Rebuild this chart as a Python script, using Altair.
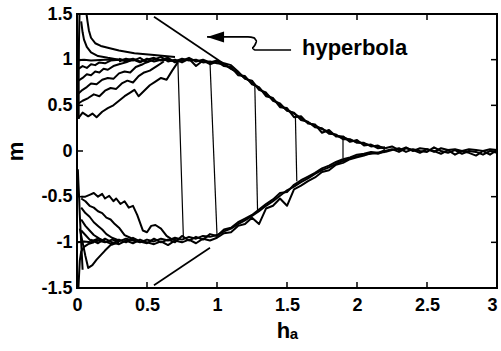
import altair as alt
import pandas as pd

# ---------------- data ----------------
# upper branch, start-up curves near h = 0
U0_H = [0.012, 0.012, 0.014, 0.018]
U0_M = [0.35, 0.8, 1.2, 1.5]
U1_H = [0.068, 0.075, 0.085, 0.1, 0.13, 0.17, 0.22, 0.3, 0.41, 0.55, 0.7]
U1_M = [1.5, 1.42, 1.32, 1.24, 1.18, 1.15, 1.13, 1.1, 1.07, 1.05, 1.03]
U2_H = [0.03, 0.04, 0.05, 0.07, 0.1, 0.15, 0.22, 0.3, 0.4]
U2_M = [1.42, 1.3, 1.22, 1.14, 1.08, 1.04, 1.02, 1.0, 1.0]
U3_H = [0.0, 0.05, 0.1, 0.2, 0.3]
U3_M = [0.99, 1.0, 0.99, 1.0, 1.0]
U4_H = [0.01, 0.04, 0.07, 0.1, 0.13, 0.16, 0.2, 0.24, 0.3]
U4_M = [0.9, 0.93, 0.91, 0.95, 0.94, 0.97, 0.96, 0.99, 1.0]
U5_H = [0.01, 0.04, 0.07, 0.1, 0.13, 0.16, 0.19, 0.22, 0.26, 0.3, 0.35, 0.4]
U5_M = [0.77, 0.8, 0.84, 0.83, 0.87, 0.86, 0.9, 0.89, 0.93, 0.95, 0.97, 1.0]
U6_H = [0.01, 0.04, 0.07, 0.1, 0.14, 0.18, 0.22, 0.26, 0.3, 0.34, 0.38, 0.42, 0.47, 0.52]
U6_M = [0.63, 0.67, 0.7, 0.74, 0.73, 0.78, 0.8, 0.79, 0.85, 0.87, 0.86, 0.92, 0.95, 0.99]
U7_H = [0.01, 0.04, 0.08, 0.12, 0.16, 0.2, 0.24, 0.28, 0.32, 0.36, 0.4, 0.44, 0.48, 0.52, 0.57, 0.62]
U7_M = [0.52, 0.55, 0.58, 0.62, 0.6, 0.66, 0.69, 0.68, 0.74, 0.77, 0.75, 0.82, 0.86, 0.88, 0.93, 0.98]
U8_H = [0.01, 0.04, 0.08, 0.11, 0.14, 0.18, 0.22, 0.26, 0.3, 0.34, 0.38, 0.41, 0.44, 0.48,
        0.52, 0.56, 0.6, 0.64, 0.68, 0.72]
U8_M = [0.36, 0.42, 0.38, 0.41, 0.37, 0.43, 0.47, 0.5, 0.55, 0.6, 0.64, 0.67, 0.6, 0.66,
        0.72, 0.76, 0.8, 0.78, 0.88, 0.97]

# upper main branch
UM_H = [0.3, 0.35, 0.4, 0.45, 0.5, 0.55, 0.6, 0.65, 0.7, 0.75, 0.8, 0.85, 0.9, 0.95, 1.0,
        1.05, 1.1, 1.15, 1.2, 1.25, 1.3, 1.35, 1.4, 1.45, 1.5, 1.55, 1.6, 1.65, 1.7, 1.75,
        1.8, 1.85, 1.9, 1.95, 2.0, 2.05, 2.1, 2.15, 2.2]
UM1_M = [1.0, 0.99, 1.01, 0.98, 1.0, 1.02, 0.99, 1.0, 0.98, 1.01, 0.99, 1.0, 0.97, 0.98, 0.96,
         0.95, 0.9, 0.86, 0.8, 0.75, 0.69, 0.62, 0.57, 0.5, 0.45, 0.41, 0.36, 0.31, 0.28, 0.24,
         0.21, 0.17, 0.15, 0.12, 0.1, 0.08, 0.06, 0.05, 0.03]
UM2_M = [0.98, 1.01, 0.99, 1.02, 0.97, 1.0, 1.03, 0.98, 1.0, 0.97, 1.01, 0.93, 0.99, 0.95, 0.98,
         0.93, 0.92, 0.83, 0.82, 0.73, 0.7, 0.6, 0.58, 0.48, 0.47, 0.37, 0.38, 0.3, 0.29, 0.2,
         0.23, 0.16, 0.16, 0.1, 0.12, 0.06, 0.07, 0.03, 0.04]
UM3_M = [1.01, 0.98, 1.0, 0.97, 1.01, 0.98, 1.0, 1.02, 0.97, 0.99, 1.02, 0.98, 1.0, 0.97, 0.99,
         0.96, 0.94, 0.87, 0.79, 0.77, 0.67, 0.64, 0.55, 0.52, 0.44, 0.42, 0.34, 0.32, 0.26, 0.25,
         0.19, 0.18, 0.13, 0.13, 0.09, 0.09, 0.05, 0.06, 0.02]

# lower branch, start-up curves near h = 0
L0_H = [0.006, 0.01, 0.015, 0.02, 0.03, 0.04]
L0_M = [-0.2, -0.35, -0.5, -0.7, -1.0, -1.3]
L1_H = [0.03, 0.06, 0.09, 0.12, 0.15, 0.18, 0.2, 0.23, 0.26, 0.28, 0.31, 0.34, 0.37, 0.4,
        0.43, 0.47, 0.5, 0.53, 0.56, 0.6, 0.64, 0.68, 0.72]
L1_M = [-0.5, -0.5, -0.48, -0.46, -0.5, -0.47, -0.52, -0.49, -0.55, -0.52, -0.58, -0.55, -0.62,
        -0.6, -0.7, -0.87, -0.89, -0.82, -0.81, -0.85, -0.93, -0.97, -0.98]
L2_H = [0.03, 0.06, 0.09, 0.12, 0.15, 0.18, 0.21, 0.24, 0.27, 0.3, 0.34, 0.38, 0.42]
L2_M = [-0.52, -0.55, -0.6, -0.62, -0.66, -0.68, -0.73, -0.75, -0.8, -0.84, -0.92, -0.95, -0.98]
L3_H = [0.03, 0.06, 0.09, 0.12, 0.15, 0.18, 0.21, 0.25, 0.3]
L3_M = [-0.62, -0.68, -0.72, -0.78, -0.82, -0.86, -0.91, -0.95, -0.98]
L4_H = [0.03, 0.06, 0.09, 0.12, 0.16, 0.2]
L4_M = [-0.75, -0.82, -0.87, -0.92, -0.96, -0.99]
L5_H = [0.03, 0.06, 0.09, 0.12]
L5_M = [-0.87, -0.92, -0.97, -1.0]
L6_H = [0.0, 0.05, 0.1, 0.15]
L6_M = [-1.0, -0.99, -1.0, -0.98]
L7_H = [0.02, 0.04, 0.06, 0.08, 0.11, 0.14, 0.17, 0.2, 0.24, 0.3]
L7_M = [-0.85, -1.0, -1.15, -1.28, -1.25, -1.19, -1.14, -1.09, -1.03, -1.0]
L8_H = [0.01, 0.015, 0.02, 0.03, 0.05, 0.08, 0.12]
L8_M = [-1.5, -1.35, -1.2, -1.1, -1.05, -1.02, -1.0]

# lower main branch
LM_H = [0.1, 0.15, 0.2, 0.25, 0.3, 0.35, 0.4, 0.45, 0.5, 0.55, 0.6, 0.65, 0.7, 0.75, 0.8,
        0.85, 0.9, 0.95, 1.0, 1.05, 1.1, 1.15, 1.2, 1.25, 1.3, 1.35, 1.4, 1.45, 1.5, 1.55,
        1.6, 1.65, 1.7, 1.75, 1.8, 1.85, 1.9, 1.95, 2.0, 2.05, 2.1, 2.15, 2.2]
LM1_M = [-1.0, -0.98, -1.0, -0.97, -0.99, -0.96, -0.98, -1.0, -0.97, -0.99, -0.96, -0.98, -0.95,
         -0.97, -0.94, -0.96, -0.93, -0.94, -0.92, -0.88, -0.85, -0.8, -0.76, -0.71, -0.66, -0.6,
         -0.55, -0.49, -0.43, -0.39, -0.34, -0.3, -0.25, -0.21, -0.18, -0.14, -0.11, -0.08, -0.06,
         -0.04, -0.03, -0.02, -0.01]
LM2_M = [-0.97, -1.01, -0.96, -1.0, -1.02, -0.98, -1.01, -0.97, -1.0, -1.02, -0.99, -1.03, -0.98,
         -1.0, -0.97, -1.01, -0.96, -0.98, -0.95, -0.9, -0.89, -0.82, -0.8, -0.73, -0.8, -0.63,
         -0.6, -0.52, -0.6, -0.42, -0.38, -0.33, -0.29, -0.23, -0.21, -0.15, -0.13, -0.09, -0.07,
         -0.05, -0.02, -0.03, 0.0]
LM3_M = [-0.99, -0.96, -0.99, -1.02, -0.97, -1.0, -0.95, -0.99, -1.01, -0.96, -1.0, -0.97, -1.0,
         -0.93, -0.98, -0.94, -0.97, -0.91, -0.93, -0.86, -0.84, -0.78, -0.74, -0.7, -0.64, -0.58,
         -0.53, -0.46, -0.45, -0.37, -0.32, -0.28, -0.24, -0.19, -0.16, -0.12, -0.09, -0.07, -0.04,
         -0.03, -0.01, -0.02, 0.01]

# tails around m = 0
T_H = [2.2, 2.25, 2.3, 2.35, 2.4, 2.45, 2.5, 2.55, 2.6, 2.65, 2.7, 2.75, 2.8, 2.85, 2.9, 2.95, 3.0]
T1_M = [0.03, 0.05, 0.01, 0.04, 0.0, 0.03, 0.02, -0.01, 0.03, 0.01, 0.02, 0.0, 0.02, 0.01, 0.0, 0.02, 0.01]
T2_M = [0.0, 0.02, -0.01, 0.03, 0.01, -0.02, 0.02, 0.0, -0.03, 0.01, -0.04, 0.0, -0.02, -0.05, 0.0, -0.04, 0.01]
T3_M = [-0.01, 0.01, 0.03, -0.01, 0.02, 0.0, -0.01, 0.04, 0.0, -0.02, 0.01, -0.03, 0.0, -0.01, -0.04, 0.0, -0.02]

# vertical jumps between branches
JUMP_H1 = [0.72, 0.95, 1.27, 1.56, 1.9]
JUMP_M1 = [1.0, 0.97, 0.72, 0.38, 0.15]
JUMP_H2 = [0.76, 1.0, 1.29, 1.57, 1.9]
JUMP_M2 = [-0.95, -0.92, -0.67, -0.33, -0.08]

# "hyperbola" guide lines
HYP_H1 = [0.55, 0.55]
HYP_M1 = [1.47, -1.47]
HYP_H2 = [1.2, 0.95]
HYP_M2 = [0.8, -1.06]

# annotation: label and squiggly arrow
LABEL_TEXT = ["hyperbola"]
LABEL_H = [1.607]
LABEL_M = [1.05]
ARROW_H = [0.929, 1.221, 1.264, 1.286, 1.271, 1.25, 1.271, 1.321, 1.529]
ARROW_M = [1.249, 1.249, 1.238, 1.205, 1.161, 1.128, 1.106, 1.106, 1.106]

X_TICKS = [0.5, 1, 1.5, 2, 2.5]
Y_TICKS = [-1, -0.5, 0, 0.5, 1]
X_LABELS = [0, 0.5, 1, 1.5, 2, 2.5, 3]
Y_LABELS = [-1.5, -1, -0.5, 0, 0.5, 1, 1.5]

# ---------------- build tables ----------------
curves = [
    ("U0", U0_H, U0_M), ("U1", U1_H, U1_M), ("U2", U2_H, U2_M), ("U3", U3_H, U3_M),
    ("U4", U4_H, U4_M), ("U5", U5_H, U5_M), ("U6", U6_H, U6_M), ("U7", U7_H, U7_M),
    ("U8", U8_H, U8_M),
    ("UM1", UM_H, UM1_M), ("UM2", UM_H, UM2_M), ("UM3", UM_H, UM3_M),
    ("L0", L0_H, L0_M), ("L1", L1_H, L1_M), ("L2", L2_H, L2_M), ("L3", L3_H, L3_M),
    ("L4", L4_H, L4_M), ("L5", L5_H, L5_M), ("L6", L6_H, L6_M), ("L7", L7_H, L7_M),
    ("L8", L8_H, L8_M),
    ("LM1", LM_H, LM1_M), ("LM2", LM_H, LM2_M), ("LM3", LM_H, LM3_M),
    ("T1", T_H, T1_M), ("T2", T_H, T2_M), ("T3", T_H, T3_M),
]
rows = []
for name, hs, ms in curves:
    for i, (h, m) in enumerate(zip(hs, ms)):
        rows.append({"curve": name, "i": i, "h": h, "m": m})
df = pd.DataFrame(rows)

jumps = pd.DataFrame({"h": JUMP_H1, "m": JUMP_M1, "h2": JUMP_H2, "m2": JUMP_M2})
hyp = pd.DataFrame({"h": HYP_H1, "m": HYP_M1, "h2": HYP_H2, "m2": HYP_M2})
label = pd.DataFrame({"t": LABEL_TEXT, "h": LABEL_H, "m": LABEL_M})
arrow = pd.DataFrame({"h": ARROW_H, "m": ARROW_M, "i": list(range(len(ARROW_H)))})
arrow_tip = arrow.iloc[[0]]
xt = pd.DataFrame({"v": X_TICKS})
yt = pd.DataFrame({"v": Y_TICKS})

FONT = "Liberation Sans"
xs = alt.Scale(domain=[0, 3], nice=False, zero=False)
ys = alt.Scale(domain=[-1.5, 1.5], nice=False, zero=False)

x_axis = alt.Axis(values=X_LABELS, labelExpr="'' + datum.value", ticks=False, domain=False,
                  grid=False, labelFont=FONT, labelFontSize=18, labelFontWeight="bold",
                  labelColor="black", labelPadding=8, title="hₐ", titleFont=FONT,
                  titleFontSize=22, titleFontWeight="bold", titleColor="black",
                  titlePadding=6, labelFlush=False,
                  labelAlign=alt.ExprRef(expr="datum.value == 3 ? 'right' : 'center'"))
y_axis = alt.Axis(values=Y_LABELS, labelExpr="'' + datum.value", ticks=False, domain=False,
                  grid=False, labelFont=FONT, labelFontSize=18, labelFontWeight="bold",
                  labelColor="black", labelPadding=5, title="m", titleFont=FONT,
                  titleFontSize=22, titleFontWeight="bold", titleColor="black",
                  titlePadding=13, labelFlush=False)


def X(field):
    return alt.X(field, scale=xs, axis=x_axis, title="hₐ")


def Y(field):
    return alt.Y(field, scale=ys, axis=y_axis, title="m")


lines = alt.Chart(df).mark_line(color="black", strokeWidth=2, clip=True,
                                strokeJoin="round").encode(
    x=X("h:Q"), y=Y("m:Q"), detail="curve:N", order="i:Q")

jump_rules = alt.Chart(jumps).mark_rule(color="black", strokeWidth=1.2, clip=True).encode(
    x=X("h:Q"), y=Y("m:Q"), x2="h2:Q", y2="m2:Q")

hyp_rules = alt.Chart(hyp).mark_rule(color="black", strokeWidth=1.7, clip=True).encode(
    x=X("h:Q"), y=Y("m:Q"), x2="h2:Q", y2="m2:Q")

label_text = alt.Chart(label).mark_text(align="left", baseline="alphabetic", font=FONT,
                                        fontSize=22, fontWeight="bold", color="black").encode(
    x=X("h:Q"), y=Y("m:Q"), text="t:N")

arrow_line = alt.Chart(arrow).mark_line(color="black", strokeWidth=1.7,
                                        interpolate="monotone").encode(
    x=X("h:Q"), y=Y("m:Q"), order="i:Q")

arrow_head = alt.Chart(arrow_tip).mark_point(
    shape="M 0 0 L 2 -0.65 L 2 0.65 Z", size=289, filled=True, color="black", opacity=1,
    strokeWidth=0).encode(x=X("h:Q"), y=Y("m:Q"))

x_ticks_bottom = alt.Chart(xt).mark_tick(orient="vertical", size=12, thickness=1.5,
                                         color="black", clip=True, opacity=1).encode(
    x=X("v:Q"), y=alt.datum(-1.5, scale=ys, axis=y_axis, title="m"))
x_ticks_top = alt.Chart(xt).mark_tick(orient="vertical", size=12, thickness=1.5,
                                      color="black", clip=True, opacity=1).encode(
    x=X("v:Q"), y=alt.datum(1.5, scale=ys, axis=y_axis, title="m"))
y_ticks_left = alt.Chart(yt).mark_tick(orient="horizontal", size=12, thickness=1.5,
                                       color="black", clip=True, opacity=1).encode(
    y=Y("v:Q"), x=alt.datum(0, scale=xs, axis=x_axis, title="hₐ"))
y_ticks_right = alt.Chart(yt).mark_tick(orient="horizontal", size=12, thickness=1.5,
                                        color="black", clip=True, opacity=1).encode(
    y=Y("v:Q"), x=alt.datum(3, scale=xs, axis=x_axis, title="hₐ"))

chart = alt.layer(
    lines, jump_rules, hyp_rules, label_text, arrow_line, arrow_head,
    x_ticks_bottom, x_ticks_top, y_ticks_left, y_ticks_right,
).properties(
    width=420, height=274,
    autosize=alt.AutoSizeParams(type="none"),
    padding={"left": 77, "top": 14, "right": 4, "bottom": 63},
    background="white",
).configure_view(stroke="black", strokeWidth=2)

chart.save("out.html", embed_options={"renderer": "svg", "actions": False})
